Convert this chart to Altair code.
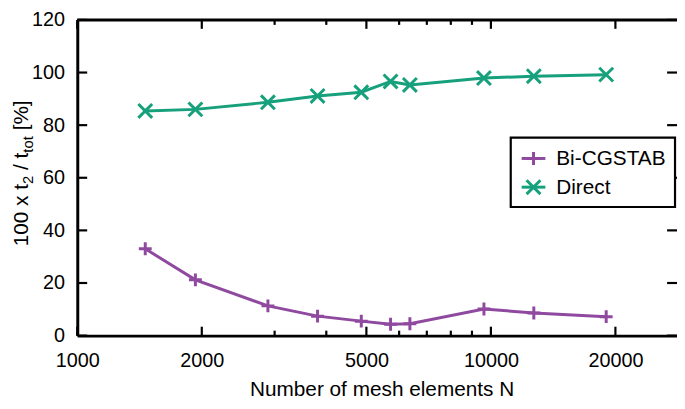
import altair as alt
import pandas as pd

# ---- data ----
N = [1460, 1930, 2890, 3810, 4860, 5720, 6370, 9620, 12700, 19000]
bicgstab = [33.0, 21.2, 11.3, 7.4, 5.5, 4.3, 4.5, 10.1, 8.6, 7.2]
direct = [85.4, 86.0, 88.7, 91.1, 92.5, 96.6, 95.3, 97.9, 98.6, 99.2]
methods = ["Bi-CGSTAB", "Direct"]
x_major = [1000, 2000, 5000, 10000, 20000]
x_minor = [3000, 4000, 6000, 7000, 8000, 9000]
y_major = [0, 20, 40, 60, 80, 100, 120]
x_title = "Number of mesh elements N"

PURPLE = "#8f4aa0"
GREEN = "#16a07c"
FONT = "Liberation Sans"
W, H = 606, 319
TOP = 10
X_DOMAIN = [1000, 28180]
PLUS = "M-1,0L1,0M0,-1L0,1"
CROSS = "M-1,-1L1,1M-1,1L1,-1"

df = pd.DataFrame({
    "N": N + N,
    "pct": bicgstab + direct,
    "method": [methods[0]] * len(N) + [methods[1]] * len(N),
})
dfx_major = pd.DataFrame({"N": x_major})
dfx_minor = pd.DataFrame({"N": x_minor})
dfy = pd.DataFrame({"v": y_major})
dummy = pd.DataFrame({"a": [0]})

xscale = alt.Scale(type="log", domain=X_DOMAIN, nice=False)
yscale = alt.Scale(domain=[0, 120], nice=False)
color = alt.Color("method:N", scale=alt.Scale(domain=methods, range=[PURPLE, GREEN]), legend=None)

x_enc = alt.X("N:Q", scale=xscale,
              axis=alt.Axis(values=x_major, format="d", labelFlush=False, labelOverlap=False,
                            title=None, labelPadding=15))
y_enc = alt.Y("pct:Q", scale=yscale,
              axis=alt.Axis(values=y_major, title=None, labelPadding=13))

lines = alt.Chart(df).mark_line(strokeWidth=3).encode(x=x_enc, y=y_enc, color=color, detail="method:N")
points = alt.Chart(df).mark_point(filled=False, strokeWidth=3, opacity=1).encode(
    x="N:Q", y="pct:Q", color=color,
    shape=alt.Shape("method:N", scale=alt.Scale(domain=methods, range=[PLUS, CROSS]), legend=None),
    size=alt.Size("method:N", scale=alt.Scale(domain=methods, range=[169, 196]), legend=None),
)

tk = dict(color="black", strokeWidth=2.2)
xt_bot = alt.Chart(dfx_major).mark_rule(**tk).encode(x=alt.X("N:Q", scale=xscale), y=alt.value(H), y2=alt.value(H - 9))
xt_top = alt.Chart(dfx_major).mark_rule(**tk).encode(x=alt.X("N:Q", scale=xscale), y=alt.value(0), y2=alt.value(9))
xm_bot = alt.Chart(dfx_minor).mark_rule(**tk).encode(x=alt.X("N:Q", scale=xscale), y=alt.value(H), y2=alt.value(H - 5))
xm_top = alt.Chart(dfx_minor).mark_rule(**tk).encode(x=alt.X("N:Q", scale=xscale), y=alt.value(0), y2=alt.value(5))
yt_l = alt.Chart(dfy).mark_rule(**tk).encode(y=alt.Y("v:Q", scale=yscale), x=alt.value(0), x2=alt.value(10))
yt_r = alt.Chart(dfy).mark_rule(**tk).encode(y=alt.Y("v:Q", scale=yscale), x=alt.value(W - 10), x2=alt.value(W))
top_border = alt.Chart(dummy).mark_rule(color="black", strokeWidth=3).encode(
    x=alt.value(0), x2=alt.value(W), y=alt.value(0))

x_title_mark = alt.Chart(dummy).mark_text(text=x_title, font=FONT, fontSize=21, align="center",
                                          baseline="alphabetic", color="black").encode(
    x=alt.value(308), y=alt.value(380))

# legend box (plot coordinates; plot top is at page y 18)
leg_box = alt.Chart(dummy).mark_rect(fill="white", stroke="black", strokeWidth=2.2).encode(
    x=alt.value(438), x2=alt.value(604), y=alt.value(119), y2=alt.value(189))
legend_layers = [leg_box]
for name, col, shp, sz, yy in [(methods[0], PURPLE, PLUS, 169, 140), (methods[1], GREEN, CROSS, 196, 169)]:
    legend_layers.append(alt.Chart(dummy).mark_rule(color=col, strokeWidth=3).encode(
        x=alt.value(449), x2=alt.value(473), y=alt.value(yy)))
    legend_layers.append(alt.Chart(dummy).mark_point(shape=shp, size=sz, filled=False, color=col,
                                                      strokeWidth=3, opacity=1).encode(
        x=alt.value(461), y=alt.value(yy)))
    legend_layers.append(alt.Chart(dummy).mark_text(text=name, font=FONT, fontSize=21, align="left",
                                                     baseline="middle", color="black").encode(
        x=alt.value(484), y=alt.value(yy + 1)))

# y title with subscripts: pieces of rotated text
y0 = 228.8
pieces = [
    ("100 x t", 21, -50, y0),
    ("2", 15, -45, y0 - 63.0),
    ("/ t", 21, -50, y0 - 63.0 - 8.3 - 5.8),
    ("tot", 15, -45, y0 - 63.0 - 8.3 - 23.4),
    ("[%]", 21, -50, y0 - 63.0 - 8.3 - 23.4 - 16.7 - 5.8),
]
title_layers = []
for txt, fs, xx, yy in pieces:
    title_layers.append(alt.Chart(dummy).mark_text(text=txt, font=FONT, fontSize=fs, angle=270,
                                                    align="left", baseline="alphabetic", color="black").encode(
        x=alt.value(xx), y=alt.value(yy)))

chart = alt.layer(
    lines, points, xt_bot, xt_top, xm_bot, xm_top, yt_l, yt_r, top_border, x_title_mark,
    *legend_layers, *title_layers
).properties(
    width=W, height=H,
    padding={"left": 70, "top": TOP, "right": 0, "bottom": 62},
    autosize=alt.AutoSizeParams(type="none"),
).configure_view(stroke=None).configure_axis(
    domainColor="black", domainWidth=3, ticks=False, tickSize=0, grid=False,
    labelFont=FONT, labelFontSize=20, labelColor="black",
)

chart.save("out.html", embed_options={"renderer": "svg", "actions": False})
